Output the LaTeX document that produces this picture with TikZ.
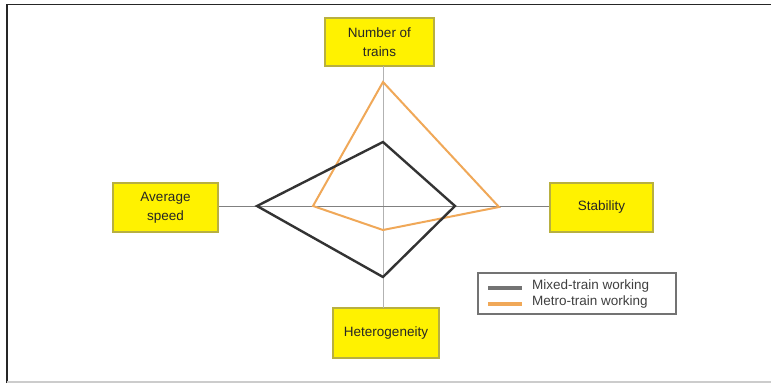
\documentclass[tikz,border=0pt]{standalone}
\usepackage{fontspec}
\setmainfont{Liberation Sans}
\begin{document}
\begin{tikzpicture}[x=1pt,y=-1pt,
  lbl/.style={draw=boxborder,line width=1.2pt,fill=yellow,align=center,inner sep=0pt,
    font=\fontsize{13.5}{19}\selectfont,text=black!85},
  axisline/.style={draw=black!50,line width=1pt},
  mixed/.style={draw=black!80,line width=2.4pt,line join=miter},
  metro/.style={draw=orangeline,line width=2pt,line join=miter},
  legtext/.style={font=\fontsize{13.5}{16}\selectfont,text=black!75,anchor=west,inner sep=0pt}]
\definecolor{boxborder}{HTML}{B8B040}
\definecolor{orangeline}{HTML}{F0A858}
\useasboundingbox (0,0) rectangle (771,383);
\fill[white] (0,0) rectangle (771,383);
% frame
\draw[black!85,line width=1.4pt] (7,383) -- (7,4.5) -- (771,4.5);
\draw[black!20,line width=1.2pt] (7,382) -- (771,382);
% label boxes
\node[lbl,minimum width=109pt,minimum height=48pt] (top) at (379.5,42) {Number of\\trains};
\node[lbl,minimum width=105pt,minimum height=49pt] (left) at (165.5,207.5) {Average\\speed};
\node[lbl,minimum width=103pt,minimum height=49pt] (right) at (601.5,207.5) {Stability};
\node[lbl,minimum width=106pt,minimum height=50pt] (bottom) at (386,333) {Heterogeneity};
% axes
\coordinate (c) at (383,206);
\draw[axisline,draw=black!30] (383,66) -- (383,308);
\draw[axisline] (left.east |- c) -- (right.west |- c);
% polygons
\coordinate (kt) at (383,142);
\coordinate (kl) at (257,206);
\coordinate (kb) at (383,277);
\coordinate (kr) at (455,206);
\coordinate (ot) at (383,82);
\coordinate (or) at (499,207);
\coordinate (ob) at (383,230);
\coordinate (ol) at (313,206);
\draw[metro] (ot) -- (or) -- (ob) -- (ol) -- cycle;
\draw[mixed] (kt) -- (kr) -- (kb) -- (kl) -- cycle;
% legend
\node[draw=black!55,line width=1.2pt,minimum width=198pt,minimum height=41pt,inner sep=0pt] (leg) at (577,293.5) {};
\coordinate (m1) at (488,288);
\coordinate (m2) at (522,288);
\coordinate (n1) at (488,304);
\coordinate (n2) at (522,304);
\draw[draw=black!55,line width=3.5pt] (m1) -- (m2);
\draw[draw=orangeline,line width=3.5pt] (n1) -- (n2);
\node[legtext] (lt1) at (532,286) {Mixed-train working};
\node[legtext] (lt2) at (532,302) {Metro-train working};
\end{tikzpicture}
\end{document}
